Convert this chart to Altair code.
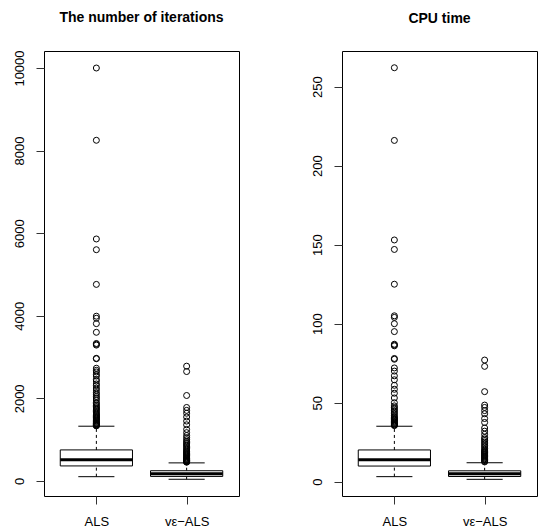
import altair as alt
import pandas as pd

FONT = "Liberation Sans"

categories = ["ALS", "v\u03b5\u2212ALS"]
positions = [1, 2]

# The number of iterations: box statistics per method
iter_lower = [104, 41]
iter_q1 = [364, 110]
iter_median = [515, 172]
iter_q3 = [752, 248]
iter_upper = [1326, 438]
iter_out_als = [10000, 8250, 5860, 5600, 4760, 3990, 3940, 3810, 3600, 3330, 3310, 3290,
                2970, 2960, 2730, 2680, 2640, 2580, 2540, 2460, 2420, 2350, 2310, 2250,
                2200, 2140, 2100, 2050, 2010, 1960, 1900, 1870, 1830, 1800, 1770, 1740,
                1710, 1680, 1650, 1620, 1600, 1580, 1560, 1540, 1520, 1500, 1480, 1460,
                1440, 1420, 1400, 1390, 1380, 1370, 1360, 1350, 1340, 1335]
iter_out_ve = [2780, 2650, 2070, 1780, 1710, 1640, 1550, 1450, 1360, 1250, 1170, 1100,
               1050, 1000, 960, 930, 900, 870, 840, 810, 780, 750, 720, 700, 680, 660,
               640, 620, 600, 580, 560, 545, 530, 515, 500, 490, 480, 470, 460, 455]

# CPU time: box statistics per method
cpu_lower = [3.2, 1.5]
cpu_q1 = [9.9, 3.3]
cpu_median = [13.9, 5.1]
cpu_q3 = [20.1, 6.9]
cpu_upper = [35.1, 12.0]
cpu_out_als = [262, 216, 153, 147, 125, 105, 104, 100, 95, 87, 86.5, 86, 78, 77.5, 72,
               70, 67, 64.5, 61, 58.5, 56, 53, 50, 48, 47, 46, 45, 44, 43, 42, 41, 40.5,
               40, 39.5, 39, 38.5, 38, 37.5, 37, 36.5, 36, 35.8, 35.5]
cpu_out_ve = [77, 73, 57, 48.5, 47, 45, 43, 40, 37.5, 34, 32, 30, 28, 27, 26, 25, 24, 23,
              22, 21, 20, 19.5, 19, 18.5, 18, 17.5, 17, 16.5, 16, 15.5, 15, 14.5, 14, 13.5,
              13, 12.5]

iter_ticks = [0, 2000, 4000, 6000, 8000, 10000]
cpu_ticks = [0, 50, 100, 150, 200, 250]
iter_domain = [-364, 10412]
cpu_domain = [-9.05, 272.6]

label_expr = " : ".join(
    f"datum.value == {p} ? '{c}'" for p, c in zip(positions, categories)
) + " : ''"


def panel(title, lower, q1, med, q3, upper, out_a, out_b, ticks, domain):
    stats = pd.DataFrame({"pos": positions, "lower": lower, "q1": q1,
                          "median": med, "q3": q3, "upper": upper})
    outs = pd.DataFrame({"pos": [positions[0]] * len(out_a) + [positions[1]] * len(out_b),
                         "value": out_a + out_b})

    xs = alt.Scale(domain=[0.42, 2.58], nice=False, zero=False)
    ys = alt.Scale(domain=domain, nice=False, zero=False)
    xaxis = alt.Axis(values=positions, labelExpr=label_expr, title=None, grid=False,
                     domain=False, tickSize=8, labelPadding=11, labelFont=FONT,
                     labelFontSize=13, labelColor="black", tickColor="#333")
    yaxis = alt.Axis(values=ticks, format="d", title=None, grid=False, domain=False,
                     tickSize=8, labelPadding=10, labelAngle=-90, labelAlign="center",
                     labelBaseline="bottom", labelFont=FONT, labelFontSize=13,
                     labelColor="black", tickColor="#333")

    base = alt.Chart(stats).transform_calculate(
        bl="datum.pos - 0.4", br="datum.pos + 0.4",
        cl="datum.pos - 0.2", cr="datum.pos + 0.2")

    whisk_up = base.mark_rule(color="black", strokeDash=[3, 3], strokeWidth=1).encode(
        x=alt.X("pos:Q", scale=xs, axis=xaxis),
        y=alt.Y("q3:Q", scale=ys, axis=yaxis), y2="upper:Q")
    whisk_lo = base.mark_rule(color="black", strokeDash=[3, 3], strokeWidth=1).encode(
        x="pos:Q", y="lower:Q", y2="q1:Q")
    cap_up = base.mark_rule(color="black", strokeWidth=1).encode(
        x="cl:Q", x2="cr:Q", y="upper:Q")
    cap_lo = base.mark_rule(color="black", strokeWidth=1).encode(
        x="cl:Q", x2="cr:Q", y="lower:Q")
    box = base.mark_rect(fill="white", stroke="black", strokeWidth=1).encode(
        x="bl:Q", x2="br:Q", y="q1:Q", y2="q3:Q")
    median = base.mark_rule(color="black", strokeWidth=3).encode(
        x="bl:Q", x2="br:Q", y="median:Q")
    pts = alt.Chart(outs).mark_point(shape="circle", filled=False, color="black",
                                     size=36, strokeWidth=1, opacity=1).encode(
        x="pos:Q", y="value:Q")

    return alt.layer(whisk_up, whisk_lo, cap_up, cap_lo, box, median, pts).properties(
        width=195, height=445,
        title=alt.TitleParams(title, font=FONT, fontSize=14, fontWeight="bold",
                              color="black", anchor="middle", offset=25))


left = panel("The number of iterations", iter_lower, iter_q1, iter_median, iter_q3,
             iter_upper, iter_out_als, iter_out_ve, iter_ticks, iter_domain)
right = panel("CPU time", cpu_lower, cpu_q1, cpu_median, cpu_q3, cpu_upper,
              cpu_out_als, cpu_out_ve, cpu_ticks, cpu_domain)

chart = alt.hconcat(left, right, spacing=70).properties(
    padding={"left": 12, "top": 10, "right": 0, "bottom": 0},
    background="white"
).configure_view(stroke="black", strokeWidth=1)

chart.save("out.html", embed_options={"renderer": "svg", "actions": False})
